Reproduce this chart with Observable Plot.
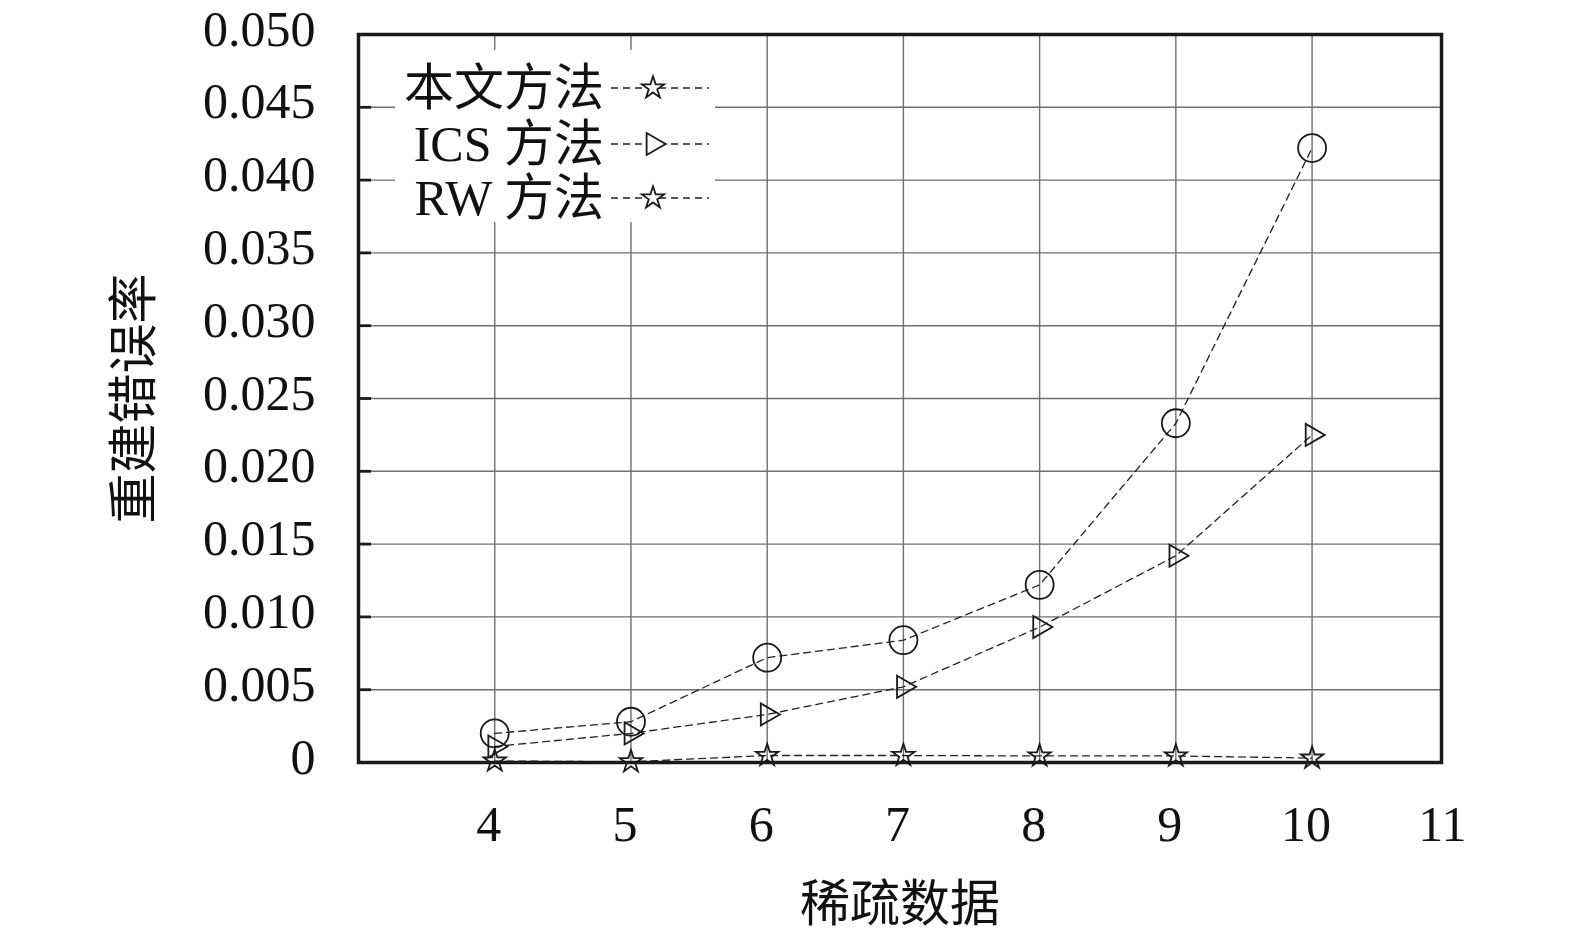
<!DOCTYPE html>
<html>
<head>
<meta charset="utf-8">
<script src="https://cdn.jsdelivr.net/npm/d3@7"></script>
<script src="https://cdn.jsdelivr.net/npm/@observablehq/plot@0.6"></script>
<style>
  body { margin: 0; background: #fff; }
  #wrap { position: relative; width: 1575px; height: 933px; font-family: "Liberation Serif", "Noto Sans CJK SC", serif; }
  #legend { position: absolute; left: 395px; top: 50px; width: 320px; height: 172px; background: #fff; }
  .lrow { position: absolute; left: 0; height: 56px; display: flex; align-items: center; }
  .ltext { width: 209px; text-align: right; font-size: 50px; line-height: 56px; color: #111; white-space: nowrap; }
</style>
</head>
<body>
<div id="wrap"><div id="legend"></div></div>
<script>
// ---- data ----
const sparsity = [4, 5, 6, 7, 8, 9, 10];
const circleValues = [0.0020, 0.0028, 0.0072, 0.0084, 0.0122, 0.0233, 0.0422];
const icsValues    = [0.0011, 0.0020, 0.0033, 0.0052, 0.0093, 0.0142, 0.0225];
const rwValues     = [0.0001, 0.00005, 0.00048, 0.00048, 0.00045, 0.00045, 0.0003];
const xTicks = [4, 5, 6, 7, 8, 9, 10, 11];
const xGrid = [4, 5, 6, 7, 8, 9, 10];
const yTicks = [0, 0.005, 0.010, 0.015, 0.020, 0.025, 0.030, 0.035, 0.040, 0.045, 0.050];
const yInnerTicks = [0.005, 0.010, 0.015, 0.020, 0.025, 0.030, 0.035, 0.040, 0.045];
const legendLabels  = ["本文方法", "ICS 方法", "RW 方法"];
const legendSymbols = ["star", "triangle", "star"];
const xLabel = "稀疏数据";
const yLabel = "重建错误率";

const toRows = (name, vals) => sparsity.map((x, i) => ({series: name, x, y: vals[i]}));
const circles = toRows("circle", circleValues);
const ics = toRows("ics", icsValues);
const rw = toRows("rw", rwValues);
const all = [...circles, ...ics, ...rw];

const gridStyle = {stroke: "#6f6f6f", strokeOpacity: 1, strokeWidth: 1.4};
const lineStyle = {stroke: "#222", strokeWidth: 1.3, strokeDasharray: "7,5"};
const dotStyle = {stroke: "#1a1a1a", fill: "none", strokeWidth: 1.8};

const chart = Plot.plot({
  width: 1575,
  height: 933,
  marginLeft: 358,
  marginRight: 134,
  marginTop: 34,
  marginBottom: 171,
  style: {fontFamily: '"Liberation Serif", "Noto Sans CJK SC", serif', background: "#fff", color: "#111"},
  x: {domain: [3, 10.95]},
  y: {domain: [0, 0.05]},
  marks: [
    Plot.gridX(xGrid, gridStyle),
    Plot.gridY(yTicks, gridStyle),
    Plot.line(all, {x: "x", y: "y", z: "series", ...lineStyle}),
    Plot.dot(circles, {x: "x", y: "y", r: 14, ...dotStyle}),
    Plot.dot(ics, {x: "x", y: "y", symbol: "triangle", rotate: 90, r: 8.2, ...dotStyle}),
    Plot.dot(rw, {x: "x", y: "y", symbol: "star", r: 7, ...dotStyle}),
    Plot.frame({stroke: "#1a1a1a", strokeWidth: 3.5}),
    // inward tick marks on the left edge (shifted inside the frame)
    Plot.axisY(yInnerTicks, {
      tickSize: 13, dx: 13, strokeWidth: 2.8, stroke: "#1a1a1a",
      tickFormat: () => "", label: null
    }),
    // tick labels and axis title
    Plot.axisY(yTicks, {
      tickSize: 0, tickPadding: 43,
      tickFormat: d => d === 0 ? "0" : d3.format(".3f")(d),
      fontSize: 50, fill: "#111", dy: -5,
      label: yLabel, labelAnchor: "center", labelOffset: 243, labelArrow: "none"
    }),
    Plot.axisX(xTicks, {
      tickSize: 0, tickPadding: 43, fontSize: 50, fill: "#111", dx: -6,
      tickFormat: d => String(d),
      label: xLabel, labelAnchor: "center", labelOffset: 158, labelArrow: "none"
    })
  ]
});
document.getElementById("wrap").prepend(chart);

// ---- legend (HTML overlay) ----
const legend = d3.select("#legend");
const rowCenters = [38, 94, 148];
legendLabels.forEach((lab, i) => {
  const row = legend.append("div").attr("class", "lrow").style("top", (rowCenters[i] - 28) + "px");
  row.append("span").attr("class", "ltext").text(lab);
  const svg = row.append("svg").attr("width", 110).attr("height", 56);
  svg.append("line").attr("x1", 7).attr("x2", 105).attr("y1", 28).attr("y2", 28)
    .attr("stroke", "#222").attr("stroke-width", 1.3).attr("stroke-dasharray", "7,5");
  const isTri = legendSymbols[i] === "triangle";
  const r = isTri ? 8.2 : 7;
  const sym = d3.symbol(isTri ? d3.symbolTriangle : d3.symbolStar, Math.PI * r * r);
  svg.append("path").attr("d", sym())
    .attr("transform", `translate(49,28)${isTri ? " rotate(90)" : ""}`)
    .attr("fill", "#fff").attr("stroke", "#1a1a1a").attr("stroke-width", 1.8);
});
</script>
</body>
</html>
